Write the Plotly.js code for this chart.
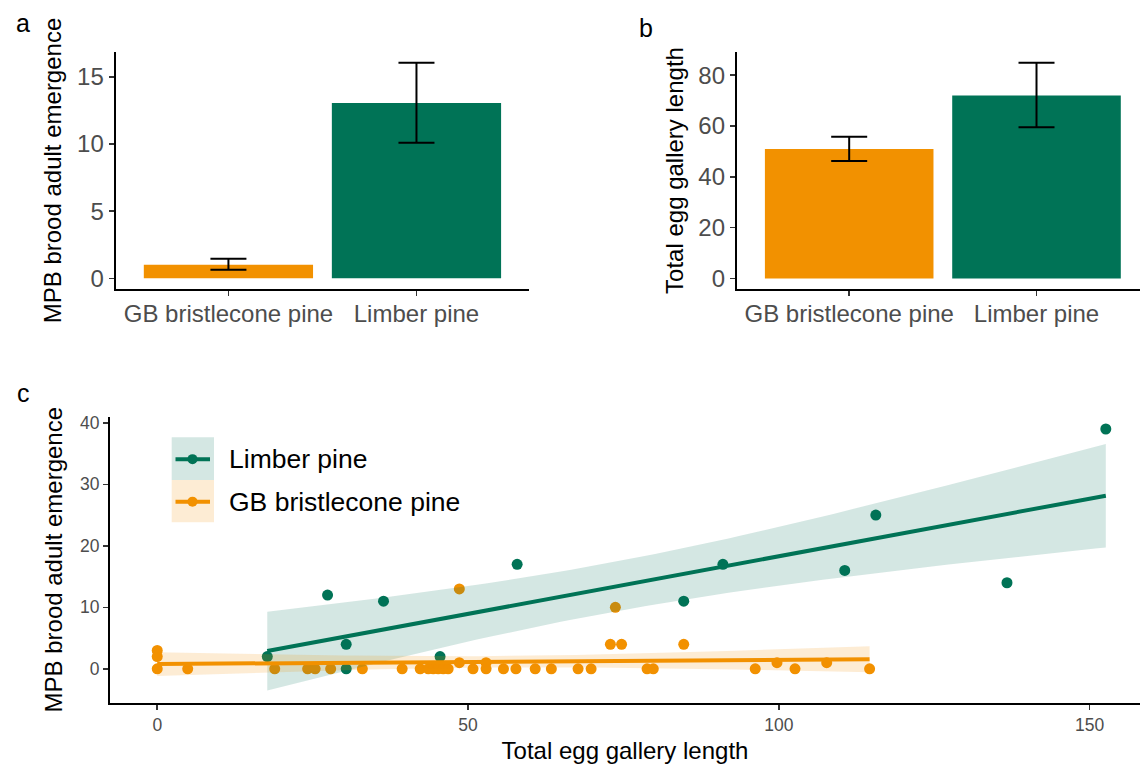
<!DOCTYPE html>
<html>
<head>
<meta charset="utf-8">
<script src="https://cdn.plot.ly/plotly-3.0.1.min.js"></script>
<style>html,body{margin:0;padding:0;background:#fff;overflow:hidden}</style>
</head>
<body>
<div id="chart" style="width:1140px;height:765px"></div>
<script>
// ---------- data ----------
const species = ['GB bristlecone pine', 'Limber pine'];
const emergenceMean = [1.01, 13.05];
const emergenceLow = [0.64, 10.1];
const emergenceHigh = [1.46, 16.05];
const galleryMean = [51.0, 72.0];
const galleryLow = [46.2, 59.5];
const galleryHigh = [55.8, 84.9];

const limberX = [17.7, 27.4, 30.4, 30.4, 36.4, 45.5, 57.9, 84.7, 91.0, 110.6, 115.6, 136.7, 152.6];
const limberY = [2, 12, 4, 0, 11, 2, 17, 11, 17, 16, 25, 14, 39];

const gbX = [0, 0, 0, 4.9, 18.9, 24.2, 25.4, 27.9, 33.0, 39.4, 42.3, 43.6, 44.4, 45.2, 46.0, 46.8,
             48.6, 48.6, 50.8, 52.9, 52.9, 55.7, 57.7, 60.8, 63.4, 67.7, 69.8, 72.9, 73.7, 74.7,
             78.8, 79.8, 84.7, 96.2, 99.7, 102.6, 107.7, 114.6];
const gbY = [3, 2, 0, 0, 0, 0, 0, 0, 0, 0, 0, 0, 0, 0, 0, 0,
             1, 13, 0, 0, 1, 0, 0, 0, 0, 0, 0, 4, 10, 4,
             0, 0, 4, 0, 1, 0, 1, 0];

const xTicksC = [0, 50, 100, 150];
const yTicksC = [0, 10, 20, 30, 40];
const yTicksA = [0, 5, 10, 15];
const yTicksB = [0, 20, 40, 60, 80];

// ---------- styles ----------
const GREEN = '#007356';
const ORANGE = '#F29100';
const GREEN_FILL = 'rgba(0,115,86,0.17)';
const ORANGE_FILL = 'rgba(242,145,0,0.17)';
const F = '"Liberation Sans", Arial, sans-serif';
const W = 1140, H = 765;
const px = v => v / W;
const py = v => 1 - v / H;

// ---------- linear model with 95% CI (like geom_smooth(method = "lm")) ----------
function tQuant975(df) {
  const z = 1.959964;
  return z + (z**3 + z) / (4*df) + (5*z**5 + 16*z**3 + 3*z) / (96*df*df)
           + (3*z**7 + 19*z**5 + 17*z**3 - 15*z) / (384*df**3);
}
function lmFit(x, y, steps) {
  const n = x.length;
  const mx = x.reduce((a, b) => a + b, 0) / n;
  const my = y.reduce((a, b) => a + b, 0) / n;
  let sxx = 0, sxy = 0;
  for (let i = 0; i < n; i++) { sxx += (x[i]-mx)**2; sxy += (x[i]-mx)*(y[i]-my); }
  const b = sxy / sxx, a = my - b * mx;
  let sse = 0;
  for (let i = 0; i < n; i++) sse += (y[i] - a - b*x[i])**2;
  const s = Math.sqrt(sse / (n - 2));
  const t = tQuant975(n - 2);
  const xmin = Math.min(...x), xmax = Math.max(...x);
  const xs = [], fit = [], lo = [], hi = [];
  for (let k = 0; k <= steps; k++) {
    const xv = xmin + (xmax - xmin) * k / steps;
    const f = a + b * xv;
    const se = s * Math.sqrt(1/n + (xv - mx)**2 / sxx);
    xs.push(xv); fit.push(f); lo.push(f - t*se); hi.push(f + t*se);
  }
  return {xs, fit, lo, hi};
}
const limberFit = lmFit(limberX, limberY, 80);
const gbFit = lmFit(gbX, gbY, 80);

// ---------- traces ----------
const errBar = (mean, low, high) => ({
  type: 'data', symmetric: false,
  array: mean.map((m, i) => high[i] - m),
  arrayminus: mean.map((m, i) => m - low[i]),
  color: 'black', thickness: 2, width: 18
});

const traces = [
  { type: 'bar', x: species, y: emergenceMean, xaxis: 'x', yaxis: 'y', width: 0.9,
    marker: {color: [ORANGE, GREEN], line: {width: 0}},
    error_y: errBar(emergenceMean, emergenceLow, emergenceHigh), hoverinfo: 'skip' },
  { type: 'bar', x: species, y: galleryMean, xaxis: 'x2', yaxis: 'y2', width: 0.9,
    marker: {color: [ORANGE, GREEN], line: {width: 0}},
    error_y: errBar(galleryMean, galleryLow, galleryHigh), hoverinfo: 'skip' },

  { type: 'scatter', mode: 'markers', x: limberX, y: limberY, xaxis: 'x3', yaxis: 'y3',
    marker: {color: GREEN, size: 11, line: {width: 0}}, name: 'Limber pine' },
  { type: 'scatter', mode: 'markers', x: gbX, y: gbY, xaxis: 'x3', yaxis: 'y3',
    marker: {color: ORANGE, size: 11, line: {width: 0}}, name: 'GB bristlecone pine' },

  { type: 'scatter', mode: 'lines', x: limberFit.xs, y: limberFit.lo, xaxis: 'x3', yaxis: 'y3',
    line: {width: 0, color: 'rgba(0,0,0,0)'}, hoverinfo: 'skip' },
  { type: 'scatter', mode: 'lines', x: limberFit.xs, y: limberFit.hi, xaxis: 'x3', yaxis: 'y3',
    line: {width: 0, color: 'rgba(0,0,0,0)'}, fill: 'tonexty', fillcolor: GREEN_FILL, hoverinfo: 'skip' },
  { type: 'scatter', mode: 'lines', x: limberFit.xs, y: limberFit.fit, xaxis: 'x3', yaxis: 'y3',
    line: {width: 4, color: GREEN} },

  { type: 'scatter', mode: 'lines', x: gbFit.xs, y: gbFit.lo, xaxis: 'x3', yaxis: 'y3',
    line: {width: 0, color: 'rgba(0,0,0,0)'}, hoverinfo: 'skip' },
  { type: 'scatter', mode: 'lines', x: gbFit.xs, y: gbFit.hi, xaxis: 'x3', yaxis: 'y3',
    line: {width: 0, color: 'rgba(0,0,0,0)'}, fill: 'tonexty', fillcolor: ORANGE_FILL, hoverinfo: 'skip' },
  { type: 'scatter', mode: 'lines', x: gbFit.xs, y: gbFit.fit, xaxis: 'x3', yaxis: 'y3',
    line: {width: 4, color: ORANGE} }
];

// ---------- layout ----------
const axBase = {
  showgrid: false, zeroline: false, showline: true, linecolor: 'black', linewidth: 2,
  ticks: 'outside', ticklen: 5, tickwidth: 1.5, tickcolor: '#333333',
  tickfont: {family: F, size: 24, color: '#4D4D4D'}, fixedrange: true
};
const titleFont = {family: F, size: 24, color: 'black'};

const legendItems = [
  {label: 'Limber pine', line: GREEN, fill: GREEN_FILL, top: 437.3, bottom: 480},
  {label: 'GB bristlecone pine', line: ORANGE, fill: ORANGE_FILL, top: 480, bottom: 522.3}
];
const shapes = [];
const annotations = [];
legendItems.forEach(it => {
  const cy = (it.top + it.bottom) / 2 + 0.5;
  shapes.push({type: 'rect', xref: 'paper', yref: 'paper', x0: px(171.7), x1: px(214), y0: py(it.bottom), y1: py(it.top),
               fillcolor: it.fill, line: {width: 0}, layer: 'above'});
  shapes.push({type: 'line', xref: 'paper', yref: 'paper', x0: px(175.5), x1: px(210), y0: py(cy), y1: py(cy),
               line: {color: it.line, width: 4}, layer: 'above'});
  shapes.push({type: 'circle', xref: 'paper', yref: 'paper', x0: px(192.5 - 5), x1: px(192.5 + 5), y0: py(cy + 5), y1: py(cy - 5),
               fillcolor: it.line, line: {width: 0}, layer: 'above'});
  annotations.push({text: it.label, xref: 'paper', yref: 'paper', x: px(227), y: py(cy), xanchor: 'left', yanchor: 'middle',
                    showarrow: false, font: {family: F, size: 26.5, color: 'black'}});
});
[['a', 14, 23], ['b', 637, 28], ['c', 15, 393]].forEach(([t, x, y]) => {
  annotations.push({text: t, xref: 'paper', yref: 'paper', x: px(x), y: py(y), xanchor: 'left', yanchor: 'middle',
                    showarrow: false, font: {family: F, size: 25, color: 'black'}});
});

const layout = {
  width: W, height: H, margin: {l: 0, r: 0, t: 0, b: 0},
  paper_bgcolor: 'white', plot_bgcolor: 'rgba(0,0,0,0)', showlegend: false,
  font: {family: F}, bargap: 0.1,
  xaxis: Object.assign({}, axBase, {type: 'category', domain: [px(115.6), px(529.3)], range: [-0.6, 1.6], anchor: 'y',
           ticklabelstandoff: -3}),
  yaxis: Object.assign({}, axBase, {domain: [py(289), py(52)], range: [-0.8, 16.85], tickvals: yTicksA, anchor: 'x',
           title: {text: 'MPB brood adult emergence', font: titleFont, standoff: 9}}),
  xaxis2: Object.assign({}, axBase, {type: 'category', domain: [px(736.8), 1], range: [-0.6, 1.5525], anchor: 'y2',
           ticklabelstandoff: -3}),
  yaxis2: Object.assign({}, axBase, {domain: [py(289.3), py(51.7)], range: [-4.25, 89.25], tickvals: yTicksB, anchor: 'x2',
           title: {text: 'Total egg gallery length', font: titleFont, standoff: 8}}),
  xaxis3: Object.assign({}, axBase, {domain: [px(110), 1], range: [-7.6, 158.1], tickvals: xTicksC, anchor: 'y3',
           tickfont: {family: F, size: 17.5, color: '#4D4D4D'},
           title: {text: 'Total egg gallery length', font: titleFont, standoff: 8}}),
  yaxis3: Object.assign({}, axBase, {domain: [py(702.7), py(416.7)], range: [-5.5, 41], tickvals: yTicksC, anchor: 'x3',
           tickfont: {family: F, size: 17.5, color: '#4D4D4D'},
           title: {text: 'MPB brood adult emergence', font: titleFont, standoff: 11}}),
  shapes: shapes,
  annotations: annotations
};

Plotly.newPlot('chart', traces, layout, {staticPlot: true, displayModeBar: false});
</script>
</body>
</html>
